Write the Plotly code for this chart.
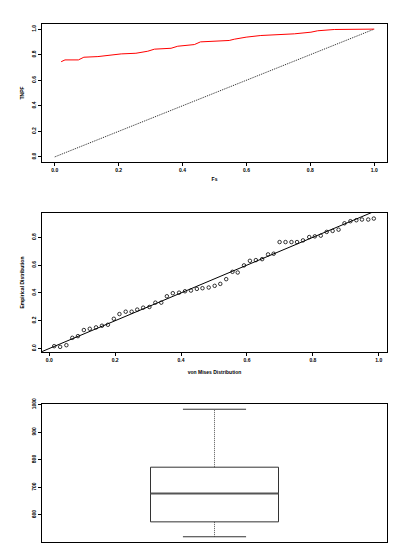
import plotly.graph_objects as go

# panel 1: curve vs diagonal
curve_x = [0.020, 0.032, 0.074, 0.091, 0.135, 0.187, 0.208, 0.254, 0.291, 0.312,
           0.364, 0.385, 0.437, 0.456, 0.499, 0.546, 0.562, 0.599, 0.645, 0.708,
           0.750, 0.802, 0.823, 0.875, 0.927, 1.000]
curve_y = [0.745, 0.759, 0.759, 0.780, 0.785, 0.801, 0.806, 0.811, 0.827, 0.843,
           0.850, 0.866, 0.879, 0.900, 0.906, 0.911, 0.921, 0.937, 0.950, 0.958,
           0.963, 0.976, 0.987, 0.997, 1.000, 1.000]
diag = [0.0, 1.0]

# panel 2: P-P plot points
pp_x = [0.015, 0.033, 0.052, 0.070, 0.087, 0.105, 0.123, 0.142, 0.160, 0.178,
        0.196, 0.213, 0.232, 0.250, 0.267, 0.285, 0.304, 0.322, 0.340, 0.357,
        0.375, 0.394, 0.412, 0.430, 0.448, 0.465, 0.484, 0.502, 0.519, 0.537,
        0.556, 0.572, 0.591, 0.609, 0.627, 0.646, 0.664, 0.681, 0.699, 0.717,
        0.735, 0.752, 0.770, 0.789, 0.806, 0.824, 0.842, 0.860, 0.878, 0.896,
        0.914, 0.932, 0.949, 0.968, 0.985]
pp_y = [0.017, 0.012, 0.024, 0.077, 0.089, 0.133, 0.142, 0.152, 0.164, 0.171,
        0.214, 0.248, 0.265, 0.265, 0.280, 0.294, 0.299, 0.330, 0.330, 0.376,
        0.398, 0.402, 0.412, 0.417, 0.429, 0.434, 0.439, 0.451, 0.465, 0.499,
        0.552, 0.547, 0.598, 0.631, 0.636, 0.643, 0.677, 0.682, 0.766, 0.766,
        0.766, 0.766, 0.778, 0.802, 0.807, 0.812, 0.839, 0.846, 0.855, 0.901,
        0.916, 0.923, 0.928, 0.928, 0.935]
ref_line = [-0.03, 1.03]

# panel 3: boxplot summary
box_low, box_q1, box_med, box_q3, box_high = 521, 575, 678, 773, 983
box_ticks = [600, 700, 800, 900, 1000]

fig = go.Figure()
fig.add_trace(go.Scatter(x=diag, y=diag, mode='lines',
                         line=dict(color='#222222', width=1, dash='1px,1px'),
                         xaxis='x', yaxis='y'))
fig.add_trace(go.Scatter(x=curve_x, y=curve_y, mode='lines',
                         line=dict(color='red', width=1),
                         xaxis='x', yaxis='y'))

fig.add_trace(go.Scatter(x=ref_line, y=ref_line, mode='lines',
                         line=dict(color='black', width=1),
                         xaxis='x2', yaxis='y2'))
fig.add_trace(go.Scatter(x=pp_x, y=pp_y, mode='markers',
                         marker=dict(symbol='circle-open', size=3.5, color='black',
                                     line=dict(width=0.8)),
                         xaxis='x2', yaxis='y2'))

hw, cw = 0.371, 0.183
# whiskers (dotted) and caps
fig.add_trace(go.Scatter(x=[0, 0, None, 0, 0],
                         y=[box_q3, box_high, None, box_q1, box_low], mode='lines',
                         line=dict(color='#555555', width=1, dash='1px,1px'),
                         xaxis='x3', yaxis='y3'))
fig.add_trace(go.Scatter(x=[-cw, cw, None, -cw, cw],
                         y=[box_high, box_high, None, box_low, box_low], mode='lines',
                         line=dict(color='#333333', width=1),
                         xaxis='x3', yaxis='y3'))
fig.add_trace(go.Scatter(x=[-hw, hw, hw, -hw, -hw],
                         y=[box_q1, box_q1, box_q3, box_q3, box_q1], mode='lines',
                         line=dict(color='#333333', width=1),
                         xaxis='x3', yaxis='y3'))
fig.add_trace(go.Scatter(x=[-hw, hw], y=[box_med, box_med], mode='lines',
                         line=dict(color='#555555', width=2),
                         xaxis='x3', yaxis='y3'))

W, H = 381, 542  # page body has an 8px margin


def xfrac(px):
    return (px - 8) / W


def yfrac(px):
    return 1 - (px - 8) / H


font = dict(family='Liberation Sans, Arial, sans-serif', size=5, color='black',
            weight='bold')
ax = dict(showgrid=False, zeroline=False, showline=True, mirror=True,
          linecolor='black', linewidth=1, ticks='outside', ticklen=3,
          tickcolor='black', tickfont=font, automargin=False)
xd = [xfrac(42), xfrac(387)]

fig.update_layout(
    width=W, height=H,
    margin=dict(l=0, r=0, t=0, b=0),
    paper_bgcolor='white', plot_bgcolor='white',
    showlegend=False,
    font=font,
    xaxis=dict(ax, domain=xd, range=[-0.04, 1.04], anchor='y',
               tickvals=[0, 0.2, 0.4, 0.6, 0.8, 1.0], tickformat='.1f',
               title=dict(text='Fs', font=font, standoff=5)),
    yaxis=dict(ax, domain=[yfrac(162), yfrac(24)], range=[-0.04, 1.04],
               anchor='x', tickvals=[0, 0.2, 0.4, 0.6, 0.8, 1.0], tickformat='.1f',
               tickangle=-90, title=dict(text='TNPF', font=font, standoff=6)),
    xaxis2=dict(ax, domain=xd, range=[-0.022, 1.025], anchor='y2',
                tickvals=[0, 0.2, 0.4, 0.6, 0.8, 1.0], tickformat='.1f',
                title=dict(text='von Mises Distribution', font=font, standoff=8)),
    yaxis2=dict(ax, domain=[yfrac(352), yfrac(213)], range=[-0.025, 0.975],
                anchor='x2', tickvals=[0, 0.2, 0.4, 0.6, 0.8], tickformat='.1f',
                tickangle=-90,
                title=dict(text='Empirical Distribution', font=font, standoff=6)),
    xaxis3=dict(ax, domain=xd, range=[-1, 1], anchor='y3', ticks='',
                showticklabels=False),
    yaxis3=dict(ax, domain=[yfrac(542), yfrac(404)], range=[502, 1002],
                anchor='x3', tickvals=box_ticks, tickangle=-90),
)

fig.write_html("out.html")
